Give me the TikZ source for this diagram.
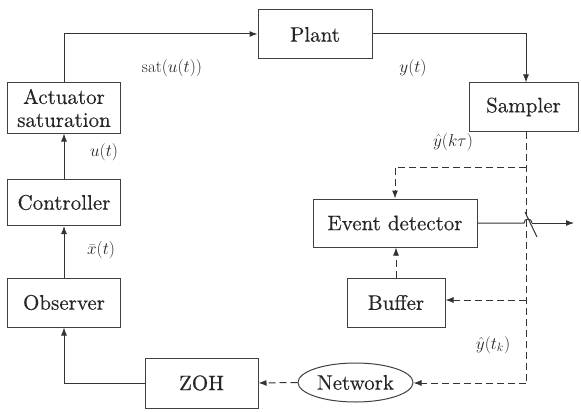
\documentclass[tikz,border=0pt]{standalone}
\usepackage{fontspec}
\newfontfamily\boxfont{lmroman10-regular.otf}[FakeBold=0.35]
\usetikzlibrary{arrows.meta,shapes.geometric}
\tikzset{
  blk/.style={draw=black!75, line width=1pt, rectangle, inner sep=0pt,
    font=\boxfont\fontsize{21}{24}\selectfont, text=black!85},
  oval/.style={draw=black!75, line width=1pt, ellipse, inner sep=0pt,
    font=\boxfont\fontsize{21}{24}\selectfont, text=black!85},
  lbl/.style={font=\rmfamily\fontsize{17}{19}\selectfont, text=black!85, inner sep=0pt},
  sig/.style={draw=black!80, line width=1pt, -{Latex[length=8pt,width=6pt]}},
  dsig/.style={sig, dash pattern=on 7pt off 4pt},
  wire/.style={draw=black!80, line width=1pt},
  dwire/.style={wire, dash pattern=on 7pt off 4pt}
}
\begin{document}
\begin{tikzpicture}[x=1pt,y=-1pt]
\useasboundingbox (0,0) rectangle (581,412);

% blocks
\node[blk, minimum width=114pt, minimum height=49pt] (plant) at (315,34.5) {Plant};
\node[blk, minimum width=109pt, minimum height=48pt] (samp) at (523.5,107) {Sampler};
\node[blk, minimum width=113pt, minimum height=50pt, align=center] (act) at (64,108)
  {Actuator\\[-1pt]saturation};
\node[blk, minimum width=113pt, minimum height=46pt] (ctrl) at (64,202.5) {Controller};
\node[blk, minimum width=113pt, minimum height=49pt] (obs) at (64,302.5) {Observer};
\node[blk, minimum width=113pt, minimum height=50pt] (zoh) at (201.5,383) {ZOH};
\node[oval, minimum width=115pt, minimum height=39pt] (net) at (355.5,382.5) {Network};
\node[blk, minimum width=164pt, minimum height=48pt] (event) at (395,223) {Event detector};
\node[blk, minimum width=98pt, minimum height=49pt] (buf) at (396,302.5) {Buffer};

% routing points
\coordinate (tap) at (526,0);
\coordinate (cx) at (64,0);
\coordinate (top) at (0,34);
\coordinate (branch) at (0,167);
\coordinate (bufy) at (0,300);
\coordinate (bot) at (0,383);
\coordinate (hopa) at (524,223);
\coordinate (hopb) at (532,223);
\coordinate (outp) at (574,223);
\coordinate (swa) at (525,212);
\coordinate (swb) at (537,237);

% solid forward path
\draw[sig] (act.north) -- (act.north |- top) -- (plant.west |- top);
\draw[sig] (plant.east |- top) -- (tap |- top) -- (samp.north -| tap);
\draw[sig] (ctrl.north) -- (act.south);
\draw[sig] (obs.north) -- (ctrl.south);
\draw[sig] (zoh.west) -- (cx |- zoh.west) -- (obs.south);

% sampled measurement, dashed
\draw[dwire] (samp.south -| tap) -- (tap |- bot);
\draw[dsig] (tap |- branch) -- (branch -| event.north) -- (event.north);
\draw[dsig] (tap |- bufy) -- (buf.east |- bufy);
\draw[dsig] (tap |- bot) -- (net.east |- bot);
\draw[dsig] (net.west) -- (zoh.east);
\draw[dsig] (buf.north) -- (event.south -| buf.north);

% event detector output through the switch, hopping over the dashed line
\draw[wire] (event.east) -- (hopa) arc[start angle=180, end angle=0, radius=4pt];
\draw[sig] (hopb) -- (outp);
\draw[wire] (swa) -- (swb);

% signal labels
\node[lbl] (lsat) at (172,68) {sat$\big(u(t)\big)$};
\node[lbl] (ly) at (413,68) {$y(t)$};
\node[lbl] (lu) at (104,152) {$u(t)$};
\node[lbl] (lx) at (101,250) {$\bar{x}(t)$};
\node[lbl] (lyk) at (453,142) {$\hat{y}\big(k\tau\big)$};
\node[lbl] (lyt) at (493,345) {$\hat{y}(t_k)$};
\end{tikzpicture}
\end{document}
